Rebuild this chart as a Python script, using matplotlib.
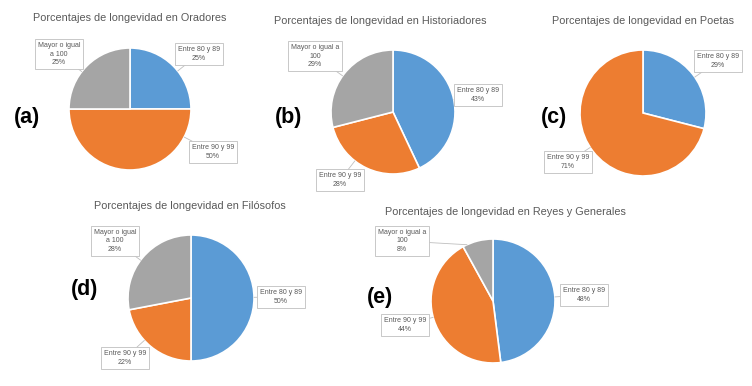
import matplotlib
matplotlib.use("Agg")
from matplotlib import pyplot as plt
import numpy as np

# data
titles = ["Oradores", "Historiadores", "Poetas", "Filósofos", "Reyes y Generales"]
tags = ["(a)", "(b)", "(c)", "(d)", "(e)"]
oradores = [25, 50, 25]
historiadores = [43, 28, 29]
poetas = [29, 71]
filosofos = [50, 22, 28]
reyes = [48, 44, 8]
labels_a = ["Entre 80 y 89", "Entre 90 y 99", "Mayor o igual\na 100"]
labels_b = ["Entre 80 y 89", "Entre 90 y 99", "Mayor o igual a\n100"]
labels_c = ["Entre 80 y 89", "Entre 90 y 99"]
labels_d = ["Entre 80 y 89", "Entre 90 y 99", "Mayor o igual\na 100"]
labels_e = ["Entre 80 y 89", "Entre 90 y 99", "Mayor o igual a\n100"]

colors = ["#5B9BD5", "#ED7D31", "#A5A5A5"]
W, H = 752, 386

# layout in pixels: pie centre, radius, title pos, tag pos, label box centres
layout = [
    dict(c=(130, 109), r=61, t=(130, 18), tag=(27, 117),
         lab=[(199, 54), (213, 152), (59, 54)]),
    dict(c=(393, 112), r=62, t=(380, 21), tag=(289, 117),
         lab=[(478, 95), (340, 180), (315, 56)]),
    dict(c=(643, 113), r=63, t=(643, 21), tag=(554, 118),
         lab=[(718, 61), (568, 162)]),
    dict(c=(191, 298), r=63, t=(190, 206), tag=(85, 290),
         lab=[(281, 297), (125, 358), (115, 241)]),
    dict(c=(493, 301), r=62, t=(505, 212), tag=(380, 297),
         lab=[(584, 295), (405, 325), (402, 241)]),
]

series = [oradores, historiadores, poetas, filosofos, reyes]
all_labels = [labels_a, labels_b, labels_c, labels_d, labels_e]

plt.rcParams['font.family'] = ['Liberation Sans', 'DejaVu Sans']
fig = plt.figure(figsize=(W / 100, H / 100), dpi=100)

for k in range(5):
    L = layout[k]
    cx, cy = L["c"]
    r = L["r"]
    ax = fig.add_axes([(cx - r) / W, 1 - (cy + r) / H, 2 * r / W, 2 * r / H])
    vals = series[k]
    wedges, _ = ax.pie(vals, colors=colors[:len(vals)], startangle=90, counterclock=False,
                       radius=1, wedgeprops=dict(edgecolor="white", linewidth=1.2))
    ax.set_xlim(-1, 1)
    ax.set_ylim(-1, 1)
    ax.set_aspect("equal")
    ax.axis("off")

    for i, w in enumerate(wedges):
        lx, ly = L["lab"][i]
        # leader goes to the edge of the slice nearest the label
        toward = np.degrees(np.arctan2(-(ly - cy), lx - cx))
        t1, t2 = w.theta1 + 4, w.theta2 - 4
        while toward < t1:
            toward += 360
        while toward > t1 + 360:
            toward -= 360
        if toward > t2:
            toward = t2 if toward - t2 < t1 + 360 - toward else t1
        ang = np.deg2rad(toward)
        ax.annotate(all_labels[k][i] + "\n" + str(vals[i]) + "%",
                    xy=(np.cos(ang), np.sin(ang)), xycoords="data",
                    xytext=(lx / W, 1 - ly / H), textcoords="figure fraction",
                    ha="center", va="center", fontsize=5, color="#595959",
                    linespacing=1.3, annotation_clip=False,
                    bbox=dict(boxstyle="square,pad=0.4", fc="white", ec="#BFBFBF", lw=0.6),
                    arrowprops=dict(arrowstyle="-", color="#BFBFBF", lw=0.6,
                                    shrinkA=0, shrinkB=0))

    fig.text(L["t"][0] / W, 1 - L["t"][1] / H, "Porcentajes de longevidad en " + titles[k],
             ha="center", va="center", fontsize=7.8, color="#595959")
    fig.text(L["tag"][0] / W, 1 - L["tag"][1] / H, tags[k],
             ha="center", va="center", fontsize=15.5, fontweight="bold", color="black")

fig.savefig("out.png", dpi=100, facecolor="white")
